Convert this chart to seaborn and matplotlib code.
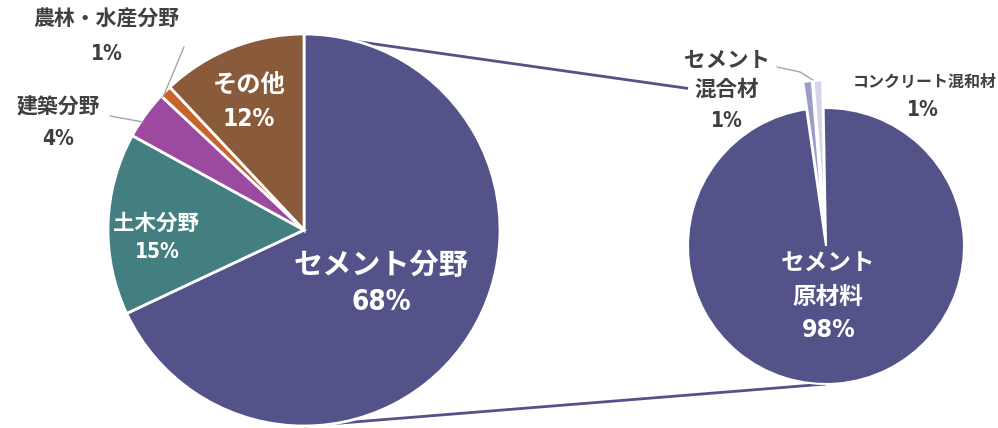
import matplotlib
matplotlib.use("Agg")
import matplotlib.pyplot as plt
import seaborn as sns
import numpy as np

# Demand breakdown (left pie) and detail of the cement sector (right pie)
main_labels = ["セメント分野", "土木分野", "建築分野", "農林・水産分野", "その他"]
main_values = [68, 15, 4, 1, 12]
sub_labels = ["セメント\n原材料", "セメント\n混合材", "コンクリート混和材"]
sub_values = [98, 1, 1]

sns.set_theme(style="white")
plt.rcParams["font.family"] = ["Noto Sans CJK JP", "DejaVu Sans"]

main_colors = sns.color_palette(["#535389", "#437f81", "#9c4aa0", "#c7632b", "#8a5b3b"])
sub_colors = sns.color_palette(["#535389", "#9a9cc9", "#d3d4ea"])

W, H = 998, 428
fig = plt.figure(figsize=(W / 100, H / 100), dpi=100)
ax = fig.add_axes([0, 0, 1, 1])

def up(y):
    return H - y

c1, r1 = (304, up(230)), 196
c2, r2 = (826, up(246)), 138

edge = dict(edgecolor="white", linewidth=2)
ax.pie(main_values, colors=main_colors, startangle=90, counterclock=False,
       center=c1, radius=r1, wedgeprops=edge)
ax.pie(sub_values, colors=sub_colors, startangle=91, counterclock=False,
       center=c2, radius=r2, explode=[0, 0.2 * r2, 0.2 * r2],
       wedgeprops=dict(edgecolor="white", linewidth=1.5))

ax.set_xlim(0, W)
ax.set_ylim(0, H)
ax.set_aspect("equal")
ax.axis("off")

# series lines joining the two pies
line_col = main_colors[0]
top1 = np.array([c1[0], c1[1] + r1])
top2 = np.array([c2[0], c2[1] + r2])
stop_x = 688
t = (stop_x - top1[0]) / (top2[0] - top1[0])
end = top1 + t * (top2 - top1)
ax.plot([top1[0], end[0]], [top1[1], end[1]], color=line_col, lw=2, zorder=0.5,
        solid_capstyle="butt")
ax.plot([c1[0], c2[0]], [c1[1] - r1, c2[1] - r2], color=line_col, lw=2,
        zorder=0.5, solid_capstyle="butt")

# leader lines for small slices
grey = "#a6a6a6"
ax.plot([110, 143], [up(116), up(122)], color=grey, lw=1, zorder=3)
ax.plot([184, 163], [up(47), up(97)], color=grey, lw=1, zorder=3)
ax.plot([777, 800, 813], [up(67), up(72), up(80)], color=grey, lw=1, zorder=3)

JP = ["Noto Sans CJK JP", "DejaVu Sans"]
NUM = ["DejaVu Sans", "Noto Sans CJK JP"]
dark = "#404040"

def txt(x, y, s, size, color, family=JP, **kw):
    ax.text(x, up(y), s, fontsize=size, color=color, family=family,
            fontweight="bold", ha="center", va="center", zorder=5, **kw)

def num(x, y, s, size, color):
    txt(x, y, s, size, color, NUM, fontstretch="condensed")

def pct(v):
    return f"{v:.0f}%"

# left pie labels
txt(381, 265, main_labels[0], 21, "white")
num(381, 302, pct(main_values[0]), 20, "white")
txt(156, 223, main_labels[1], 15.5, "white")
num(157, 252, pct(main_values[1]), 15, "white")
txt(58, 107, main_labels[2], 15, dark)
num(58, 139, pct(main_values[2]), 15, dark)
txt(106, 19, main_labels[3], 15, dark)
num(107, 54, pct(main_values[3]), 15, dark)
txt(249, 86, main_labels[4], 17.5, "white")
num(249, 119, pct(main_values[4]), 17.5, "white")

# right pie labels
l0 = sub_labels[0].split("\n")
txt(828, 263, l0[0], 17, "white")
txt(828, 297, l0[1], 17, "white")
num(829, 330, pct(sub_values[0]), 18, "white")
l1 = sub_labels[1].split("\n")
txt(727, 60, l1[0], 15.5, dark)
txt(727, 89, l1[1], 15.5, dark)
num(727, 121, pct(sub_values[1]), 15, dark)
txt(925, 82, sub_labels[2], 11.5, dark)
num(923, 110, pct(sub_values[2]), 15, dark)

fig.savefig("out.png", dpi=100)
